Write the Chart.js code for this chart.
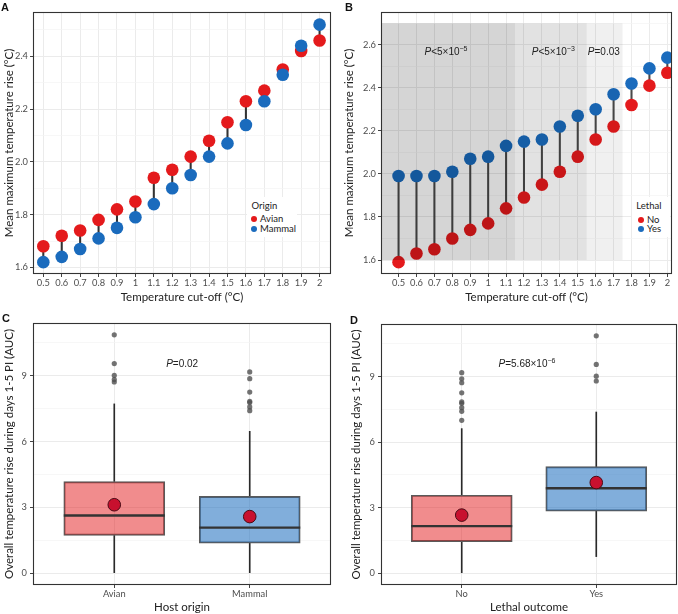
<!DOCTYPE html>
<html><head><meta charset="utf-8">
<script src="https://cdn.jsdelivr.net/npm/chart.js@4.4.1/dist/chart.umd.min.js"></script>
<style>
html,body{margin:0;padding:0;background:#fff}
body{width:678px;height:614px;position:relative;overflow:hidden;font-family:Lato,"Liberation Sans",sans-serif}
.pn{position:absolute}
.tag{position:absolute;font:bold 11px "Liberation Sans",Arial,sans-serif;color:#111;line-height:1;transform:translateY(-50%)}
.pv{position:absolute;font:10px "Liberation Sans",Arial,sans-serif;color:#222;white-space:nowrap;transform:translate(-50%,-50%);line-height:1}
.pv i{font-style:italic}
.pv sup{font-size:7px;vertical-align:0;position:relative;top:-4px}
.legbg{position:absolute;background:#fff}
.lt{position:absolute;transform:translateY(-50%);font:9.5px Lato,sans-serif;color:#222;white-space:nowrap;line-height:1}
.dot{position:absolute;width:6px;height:6px;border-radius:50%;transform:translate(-50%,-50%)}
</style></head><body>
<div class="pn" style="left:0;top:0"><canvas id="cA" width="339" height="305"></canvas></div>
<div class="pn" style="left:339px;top:0"><canvas id="cB" width="339" height="305"></canvas></div>
<div class="pn" style="left:0;top:305px"><canvas id="cC" width="339" height="309"></canvas></div>
<div class="pn" style="left:339px;top:305px"><canvas id="cD" width="339" height="309"></canvas></div>

<div class="tag" style="left:1px;top:7px">A</div>
<div class="tag" style="left:345px;top:7px">B</div>
<div class="tag" style="left:2px;top:318px">C</div>
<div class="tag" style="left:350px;top:320px">D</div>

<div class="legbg" style="left:247px;top:197px;width:50px;height:40px"></div>
<div class="lt" style="left:251.5px;top:205.7px">Origin</div>
<span class="dot" style="left:254.3px;top:219px;background:#e41a1c"></span>
<div class="lt" style="left:260px;top:219px">Avian</div>
<span class="dot" style="left:254.3px;top:229.3px;background:#1a6bbd"></span>
<div class="lt" style="left:260px;top:229.3px">Mammal</div>

<div class="legbg" style="left:632px;top:197px;width:38px;height:40px"></div>
<div class="lt" style="left:636.3px;top:205.7px">Lethal</div>
<span class="dot" style="left:641.3px;top:219.7px;background:#e41a1c"></span>
<div class="lt" style="left:647px;top:219.7px">No</div>
<span class="dot" style="left:641.3px;top:229.3px;background:#1a6bbd"></span>
<div class="lt" style="left:647px;top:229.3px">Yes</div>

<div class="pv" style="left:446px;top:52.3px"><i>P</i>&lt;5×10<sup>−5</sup></div>
<div class="pv" style="left:553.3px;top:52.3px"><i>P</i>&lt;5×10<sup>−3</sup></div>
<div class="pv" style="left:603.8px;top:52.3px"><i>P</i>=0.03</div>
<div class="pv" style="left:182.2px;top:364px"><i>P</i>=0.02</div>
<div class="pv" style="left:527px;top:363.7px"><i>P</i>=5.68×10<sup>−6</sup></div>

<script>
// ---------- data ----------
const cutoffs = ['0.5','0.6','0.7','0.8','0.9','1','1.1','1.2','1.3','1.4','1.5','1.6','1.7','1.8','1.9','2'];
const avianRise  = [1.68,1.72,1.74,1.78,1.82,1.85,1.94,1.97,2.02,2.08,2.15,2.23,2.27,2.35,2.42,2.46];
const mammalRise = [1.62,1.64,1.67,1.71,1.75,1.79,1.84,1.90,1.95,2.02,2.07,2.14,2.23,2.33,2.44,2.52];
const nonLethalRise = [1.59,1.63,1.65,1.70,1.74,1.77,1.84,1.89,1.95,2.01,2.08,2.16,2.22,2.32,2.41,2.47];
const lethalRise    = [1.99,1.99,1.99,2.01,2.07,2.08,2.13,2.15,2.16,2.22,2.27,2.30,2.37,2.42,2.49,2.54];
const shadeEndIdx = [12.5, 10.5, 6.5];
const shadeRange = [1.6, 2.7];

const yMajorA = [1.6,1.8,2.0,2.2,2.4];
const yMinorA = [1.7,1.9,2.1,2.3,2.5];
const yMajorB = [1.6,1.8,2.0,2.2,2.4,2.6];
const yMinorB = [1.7,1.9,2.1,2.3,2.5,2.7];
const yMajorCD = [0,3,6,9];
const yMinorCD = [1.5,4.5,7.5,10.5];

const hostCats = ['Avian','Mammal'];
const hostQ1 = [1.72,1.37];
const hostMed = [2.63,2.08];
const hostQ3 = [4.18,3.50];
const hostLo = [0,0];
const hostHi = [7.72,6.47];
const hostMean = [3.12,2.58];
const avianOutliers = [10.87,9.56,9.02,8.83,8.72];
const mammalOutliers = [9.18,8.87,8.26,7.84,7.78,7.58,7.41];

const lethalCats = ['No','Yes'];
const lethalQ1 = [1.44,2.84];
const lethalMed = [2.16,3.89];
const lethalQ3 = [3.57,4.88];
const lethalLo = [0,0.76];
const lethalHi = [6.62,7.38];
const lethalMean = [2.66,4.15];
const noOutliers = [9.18,8.9,8.72,8.26,7.84,7.78,7.58,7.41,7.0];
const yesOutliers = [10.87,9.56,9.02,8.8];

// ---------- styling ----------
const RED = '#e41a1c', BLUE = '#1a6bbd';
const RED_FILL = 'rgba(228,26,28,0.5)', BLUE_FILL = 'rgba(26,107,189,0.55)';
const FONT = 'Lato';

const gA = {w:339,h:305,left:33,right:331,top:12,bottom:274};
const gB = {w:339,h:305,left:42,right:333,top:12,bottom:274};
const gC = {w:339,h:309,left:33,right:331,top:18,bottom:280};
const gD = {w:339,h:309,left:42,right:338,top:19,bottom:280};

const framePlugin = {id:'frame', afterDraw(chart){
  const {ctx, chartArea:a} = chart;
  ctx.save(); ctx.strokeStyle='#333'; ctx.lineWidth=1.1;
  ctx.strokeRect(a.left+0.5, a.top+0.5, a.right-a.left-1, a.bottom-a.top-1);
  ctx.restore();
}};
const shadePlugin = {id:'shade', afterDatasetsDraw(chart){
  const {ctx, chartArea:a, scales:{x,y}} = chart;
  const yt = y.getPixelForValue(shadeRange[1]), yb = y.getPixelForValue(shadeRange[0]);
  ctx.save(); ctx.fillStyle='rgba(0,0,0,0.058)';
  shadeEndIdx.forEach(e=>{ const xr = x.getPixelForValue(e); ctx.fillRect(a.left, yt, xr-a.left, yb-yt); });
  ctx.restore();
}};

function yScale(g, min, max, majors, minors, fmt, title, titlePad, tickPad){
  const isMinor = c => c && c.tick && minors.includes(c.tick.value);
  return {
    type:'linear', min, max, offset:false, beginAtZero:false,
    afterBuildTicks: s => { s.ticks = majors.concat(minors).sort((a,b)=>a-b).map(v=>({value:v})); },
    afterFit: s => { s.width = g.left; },
    grid:{ color: c => isMinor(c) ? '#f4f4f4' : '#ebebeb', lineWidth: c => isMinor(c) ? 0.7 : 1,
           tickColor: c => isMinor(c) ? 'rgba(0,0,0,0)' : '#444', tickLength:3, drawTicks:true, offset:false },
    border:{display:false},
    ticks:{ autoSkip:false, padding:tickPad, color:'#4d4d4d', font:{family:FONT,size:9.3},
            callback: v => majors.includes(v) ? fmt(v) : '' },
    title:{ display:true, text:title, color:'#222', font:{family:FONT,size:11.5}, padding:{top:titlePad,bottom:0} }
  };
}
function xScale(g, min, max, cats, title, titlePadBottom){
  const idx = cats.map((_,i)=>i);
  return {
    type:'linear', min, max, offset:false,
    afterBuildTicks: s => { s.ticks = idx.map(v=>({value:v})); },
    afterFit: s => { s.height = g.h - g.bottom; },
    grid:{ color:'#ebebeb', lineWidth:1, tickColor:'#444', tickLength:3, drawTicks:true, offset:false },
    border:{display:false},
    ticks:{ autoSkip:false, maxRotation:0, minRotation:0, padding:0, color:'#4d4d4d', font:{family:FONT,size:9.3},
            callback: v => cats[v] },
    title:{ display:true, text:title, color:'#222', font:{family:FONT,size:11.5}, padding:{top:0,bottom:titlePadBottom} }
  };
}
function baseOptions(g, scales){
  return {
    responsive:false, animation:false, events:[],
    layout:{autoPadding:false, padding:{left:0, top:g.top, right:g.w-g.right, bottom:0}},
    plugins:{legend:{display:false}, tooltip:{enabled:false}},
    scales
  };
}
const pts = arr => arr.map((v,i)=>({x:i,y:v}));
const segs = (a,b) => a.map((v,i)=>({x:i,y:[v,b[i]]}));

// ---------- Panel A ----------
new Chart(document.getElementById('cA'), {
  type:'bar',
  data:{datasets:[
    {type:'bar', data:segs(mammalRise,avianRise), backgroundColor:'#333', barThickness:1.4, grouped:false, order:3},
    {type:'line', label:'Avian', data:pts(avianRise), showLine:false, pointRadius:6.3, pointBackgroundColor:RED, pointBorderWidth:0, order:2},
    {type:'line', label:'Mammal', data:pts(mammalRise), showLine:false, pointRadius:6.3, pointBackgroundColor:BLUE, pointBorderWidth:0, order:1}
  ]},
  options: baseOptions(gA, {
    x: xScale(gA, -0.56, 15.62, cutoffs, 'Temperature cut-off (°C)', 1.1),
    y: yScale(gA, 1.575, 2.568, yMajorA, yMinorA, v=>v.toFixed(1), 'Mean maximum temperature rise (°C)', 2.4, 2)
  }),
  plugins:[framePlugin]
});

// ---------- Panel B ----------
new Chart(document.getElementById('cB'), {
  type:'bar',
  data:{datasets:[
    {type:'bar', data:segs(nonLethalRise,lethalRise), backgroundColor:'#4a4a4a', barThickness:1.4, grouped:false, order:3},
    {type:'line', label:'No', data:pts(nonLethalRise), showLine:false, pointRadius:6.3, pointBackgroundColor:RED, pointBorderWidth:0, order:2},
    {type:'line', label:'Yes', data:pts(lethalRise), showLine:false, pointRadius:6.3, pointBackgroundColor:BLUE, pointBorderWidth:0, order:1}
  ]},
  options: baseOptions(gB, {
    x: xScale(gB, -0.98, 15.26, cutoffs, 'Temperature cut-off (°C)', 1.1),
    y: yScale(gB, 1.535, 2.752, yMajorB, yMinorB, v=>v.toFixed(1), 'Mean maximum temperature rise (°C)', 3.1, 2)
  }),
  plugins:[shadePlugin, framePlugin]
});

// ---------- Box plots ----------
function boxChart(id, g, cats, q1, med, q3, lo, hi, mean, outA, outB, xTitle, yTitlePad){
  const outliers = outA.map(v=>({x:0,y:v})).concat(outB.map(v=>({x:1,y:v})));
  new Chart(document.getElementById(id), {
    type:'bar',
    data:{datasets:[
      {type:'bar', data:lo.map((v,i)=>({x:i,y:[v,q1[i]]})), backgroundColor:'#2a2a2a', barThickness:1, grouped:false, order:6},
      {type:'bar', data:q3.map((v,i)=>({x:i,y:[v,hi[i]]})), backgroundColor:'#2a2a2a', barThickness:1, grouped:false, order:6},
      {type:'bar', data:q1.map((v,i)=>({x:i,y:[v,q3[i]]})), backgroundColor:[RED_FILL,BLUE_FILL], borderColor:'#5a5a5a', borderWidth:1.3, borderSkipped:false, barThickness:101, grouped:false, order:5},
      {type:'line', data:med.map((v,i)=>({x:i,y:v})), showLine:false, pointStyle:'line', pointRadius:50.5, pointBorderColor:'#333', pointBorderWidth:2.3, order:4},
      {type:'line', data:outliers, showLine:false, pointRadius:2.6, pointBackgroundColor:'rgba(80,80,80,0.8)', pointBorderWidth:0, order:3},
      {type:'line', data:mean.map((v,i)=>({x:i,y:v})), showLine:false, pointRadius:6.3, pointBackgroundColor:'#c8102e', pointBorderColor:'#4a0a14', pointBorderWidth:1, order:1}
    ]},
    options: baseOptions(g, {
      x: xScale(g, -0.6, 1.6, cats, xTitle, 0),
      y: yScale(g, -0.54, 11.41, yMajorCD, yMinorCD, v=>String(v), 'Overall temperature rise during days 1-5 PI (AUC)', yTitlePad, 3)
    }),
    plugins:[framePlugin]
  });
}
boxChart('cC', gC, hostCats, hostQ1, hostMed, hostQ3, hostLo, hostHi, hostMean, avianOutliers, mammalOutliers, 'Host origin', 2.4);
boxChart('cD', gD, lethalCats, lethalQ1, lethalMed, lethalQ3, lethalLo, lethalHi, lethalMean, noOutliers, yesOutliers, 'Lethal outcome', 10.4);
</script>
</body></html>
